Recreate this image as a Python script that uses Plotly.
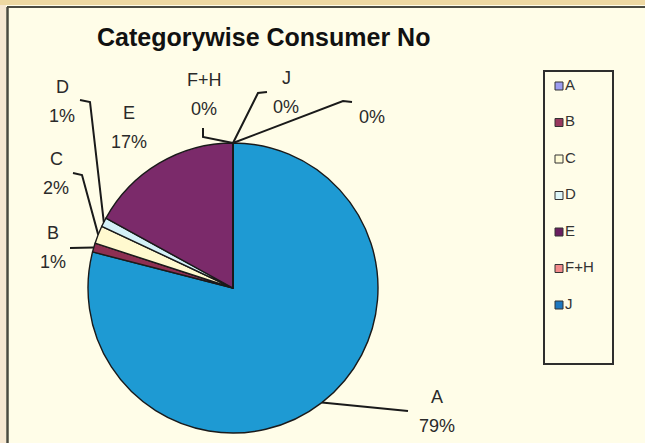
import math
import plotly.graph_objects as go

W, H = 645, 443

# pie data (percent)
slice_names = ["A", "B", "C", "D", "E", "F+H", "J", ""]
slice_values = [79, 1, 2, 1, 17, 0, 0, 0]
slice_colors = ["#1E9AD3", "#8E2F52", "#FFF9CF", "#D4F1F8", "#7B2A6A",
                "#F08080", "#1A7AC0", "#C8C8F5"]

# legend entries as printed on the chart
legend_names = ["A", "B", "C", "D", "E", "F+H", "J"]
legend_colors = ["#9C9CF0", "#98385E", "#FFFBD6", "#DDF6F8", "#6A1E60",
                 "#F28A8A", "#1E78C0"]

title_text = "Categorywise Consumer No"

# pie geometry in pixels
cx, cy, R = 233, 288, 145


def px(x):
    return x / W


def py(y):
    return 1 - y / H


fig = go.Figure()

fig.add_trace(go.Pie(
    labels=[n if n else " " for n in slice_names],
    values=slice_values,
    marker=dict(colors=slice_colors, line=dict(color="#1a1a1a", width=1.4)),
    sort=False,
    direction="clockwise",
    rotation=0,
    textinfo="none",
    hoverinfo="label+percent",
    showlegend=False,
    domain=dict(x=[px(cx - R), px(cx + R)], y=[py(cy + R), py(cy - R)]),
))

# legend drawn as markers on a hidden category axis
fig.add_trace(go.Scatter(
    x=[0.5] * len(legend_names),
    y=legend_names,
    mode="markers+text",
    marker=dict(symbol="square", size=8, color=legend_colors,
                line=dict(color="#333333", width=1)),
    text=legend_names,
    textposition="middle right",
    textfont=dict(family="Liberation Sans, Arial", size=15, color="#333333"),
    cliponaxis=False,
    hoverinfo="skip",
    showlegend=False,
    xaxis="x2", yaxis="y2",
))

# label block centres and leader elbows (pixels) for each slice
label_pos = [(437, 412), (53, 248), (56, 174), (62, 102), (129, 128),
             (204, 95), (286, 93), (372, 117)]
elbows = [[(408, 411)], [(70, 248)], [(73, 173), (82, 175)],
          [(80, 100), (90, 102)], None, [(203, 128), (203, 137)],
          [(267, 92), (258, 93)], [(352, 102), (343, 101)]]

total = sum(slice_values)
cum = 0
shapes = []
annotations = []
lab_font = dict(family="Liberation Sans, Arial", size=18, color="#2a2a2a")


def label(x, y, text):
    return dict(x=px(x), y=py(y), xref="paper", yref="paper", text=text,
                xanchor="center", yanchor="middle", showarrow=False, font=lab_font)


for name, val, (lx, ly), elb in zip(slice_names, slice_values, label_pos, elbows):
    mid = (cum + val / 2) / total * 2 * math.pi
    cum += val
    tx = cx + R * math.sin(mid)
    ty = cy - R * math.cos(mid)
    pct = f"{round(val / total * 100)}%"
    if name:
        annotations.append(label(lx, ly - 15, name))
        annotations.append(label(lx, ly + 14, pct))
    else:
        annotations.append(label(lx, ly, pct))
    if elb:
        pts = elb + [(tx, ty)]
        if name == "A":
            pts = [(tx, ty)] + elb
        path = "M " + " L ".join(f"{px(a):.5f},{py(b):.5f}" for a, b in pts)
        shapes.append(dict(type="path", path=path, xref="paper", yref="paper",
                           line=dict(color="#1a1a1a", width=2)))

# frame: tan top band, pale left band, dark border lines
shapes += [
    dict(type="rect", xref="paper", yref="paper", x0=0, x1=1, y0=py(5), y1=1,
         fillcolor="#EDD8A2", line=dict(width=0), layer="below"),
    dict(type="rect", xref="paper", yref="paper", x0=0, x1=px(6), y0=0, y1=py(5),
         fillcolor="#F6E8D2", line=dict(width=0), layer="below"),
    dict(type="line", xref="paper", yref="paper", x0=px(7), x1=1, y0=py(7), y1=py(7),
         line=dict(color="#4A4A40", width=2)),
    dict(type="line", xref="paper", yref="paper", x0=px(7.5), x1=px(7.5), y0=0, y1=py(7),
         line=dict(color="#4A4A40", width=2.5)),
    # legend box
    dict(type="rect", xref="paper", yref="paper", x0=px(544), x1=px(613),
         y0=py(364), y1=py(71), line=dict(color="#2E2E2E", width=2)),
]

annotations.append(dict(x=px(95), y=py(37), xref="paper", yref="paper",
                        xanchor="left", yanchor="middle", showarrow=False,
                        text="<b>" + title_text + "</b>",
                        font=dict(family="Liberation Sans, Arial", size=25,
                                  color="#111111")))

fig.update_layout(
    width=W, height=H,
    margin=dict(l=0, r=0, t=0, b=0),
    paper_bgcolor="#FFFDE8",
    plot_bgcolor="rgba(0,0,0,0)",
    xaxis2=dict(domain=[px(549), px(569)], range=[0, 1], visible=False, anchor="y2"),
    yaxis2=dict(domain=[py(86 + 6.5 * 36.5), py(86 - 0.5 * 36.5)], range=[6.5, -0.5],
                visible=False, anchor="x2", type="category"),
    shapes=shapes,
    annotations=annotations,
    showlegend=False,
)

fig.write_html("out.html", config={"displayModeBar": False},
               post_script="document.body.style.margin='0';")
